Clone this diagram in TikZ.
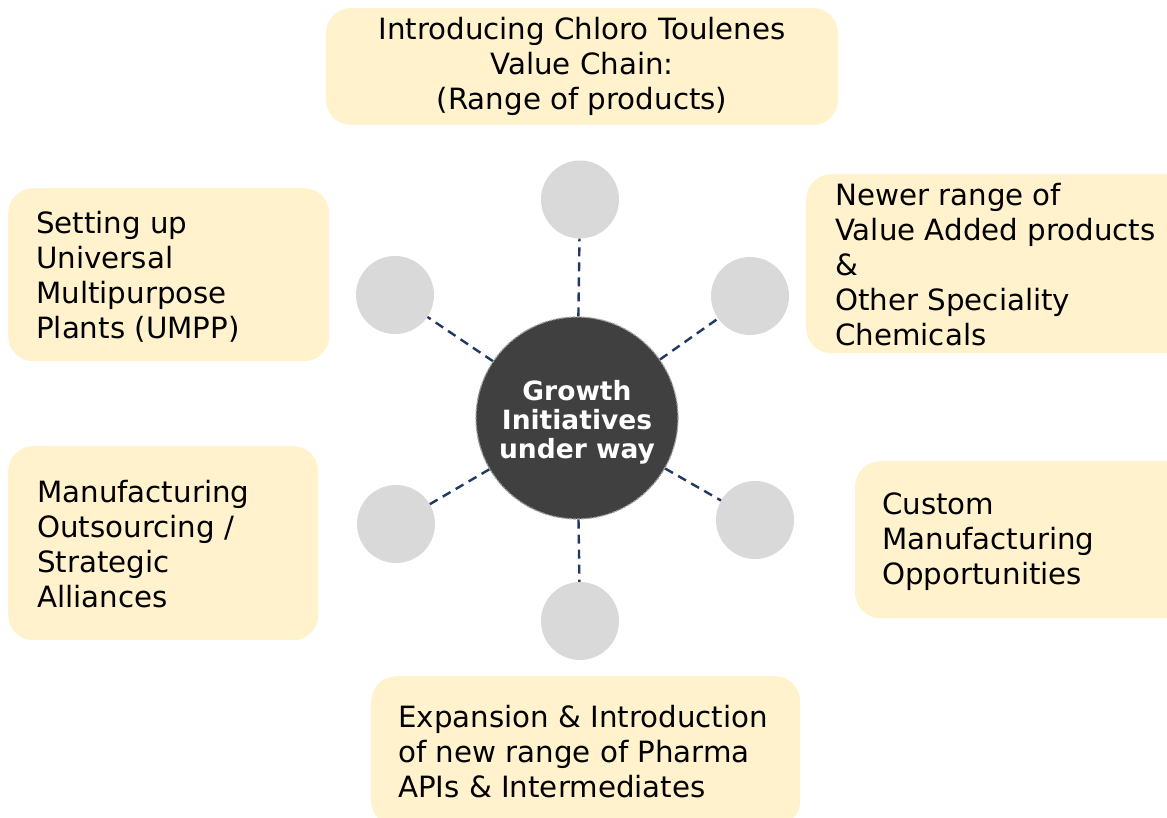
\documentclass[tikz,border=0pt]{standalone}
\usepackage{fontspec}
\setmainfont{DejaVu Sans}
\definecolor{boxfill}{HTML}{FFF2CC}
\definecolor{smallfill}{HTML}{D9D9D9}
\definecolor{hubfill}{HTML}{404040}
\definecolor{linknavy}{HTML}{1F3864}
\begin{document}
\begin{tikzpicture}[x=1pt,y=-1pt,
  box/.style={fill=boxfill, draw=none, rounded corners=25pt, inner sep=0pt},
  txt/.style={inner sep=0pt, align=left, font=\fontsize{29.3}{35}\selectfont, text=black},
  sat/.style={circle, fill=smallfill, draw=none, minimum size=78pt, inner sep=0pt},
  hub/.style={circle, fill=hubfill, draw=gray!75, dash pattern=on 3pt off 1pt, line width=1.2pt, minimum size=202pt, inner sep=0pt, align=center, text=white, font=\fontsize{26.5}{29}\selectfont\bfseries},
  link/.style={draw=linknavy, line width=2.4pt, dash pattern=on 9pt off 6pt}]
\useasboundingbox (0,0) rectangle (1167,818);
% boxes
\node[box, minimum width=512pt, minimum height=117pt, align=center, font=\fontsize{29.3}{35}\selectfont] (topbox) at (582,66.5) {Introducing Chloro Toulenes\\Value Chain:\\(Range of products)};
\node[box, minimum width=400pt, minimum height=179pt, anchor=north west] (rbox1) at (806,174) {};
\node[txt, anchor=west] (rtxt1) at ([xshift=29pt,yshift=-1pt]rbox1.west) {Newer range of\\Value Added products\\\&\\Other Speciality\\Chemicals};
\node[box, minimum width=350pt, minimum height=157pt, anchor=north west] (rbox2) at (855,461) {};
\node[txt, anchor=west] (rtxt2) at ([xshift=27pt,yshift=-2pt]rbox2.west) {Custom\\Manufacturing\\Opportunities};
\node[box, minimum width=321pt, minimum height=173pt, anchor=north west] (lbox1) at (8,188) {};
\node[txt, anchor=west] (ltxt1) at ([xshift=28pt,yshift=-2pt]lbox1.west) {Setting up\\Universal\\Multipurpose\\Plants (UMPP)};
\node[box, minimum width=310pt, minimum height=194pt, anchor=north west] (lbox2) at (8,446) {};
\node[txt, anchor=west] (ltxt2) at ([xshift=29pt,yshift=-1pt]lbox2.west) {Manufacturing\\Outsourcing /\\Strategic\\Alliances};
\node[box, minimum width=429pt, minimum height=150pt, anchor=north west] (bbox) at (371,676) {};
\node[txt, anchor=west] (btxt) at ([xshift=27pt]bbox.west) {Expansion \& Introduction\\of new range of Pharma\\APIs \& Intermediates};
% hub and satellites
\node[hub] (hub) at (577,418) {};
\node[align=center, text=white, font=\fontsize{26.5}{29}\selectfont\bfseries, inner sep=0pt] (hubtxt) at (577,422) {Growth\\Initiatives\\under way};
\node[sat] (s1) at (580,199.5) {};
\node[sat] (s2) at (395,295) {};
\node[sat] (s3) at (750,296) {};
\node[sat] (s4) at (396,524) {};
\node[sat] (s5) at (755,520) {};
\node[sat] (s6) at (580,621) {};
\foreach \s in {s1,s2,s3,s4,s5,s6} \draw[link] (hub) -- (\s);
\end{tikzpicture}
\end{document}
